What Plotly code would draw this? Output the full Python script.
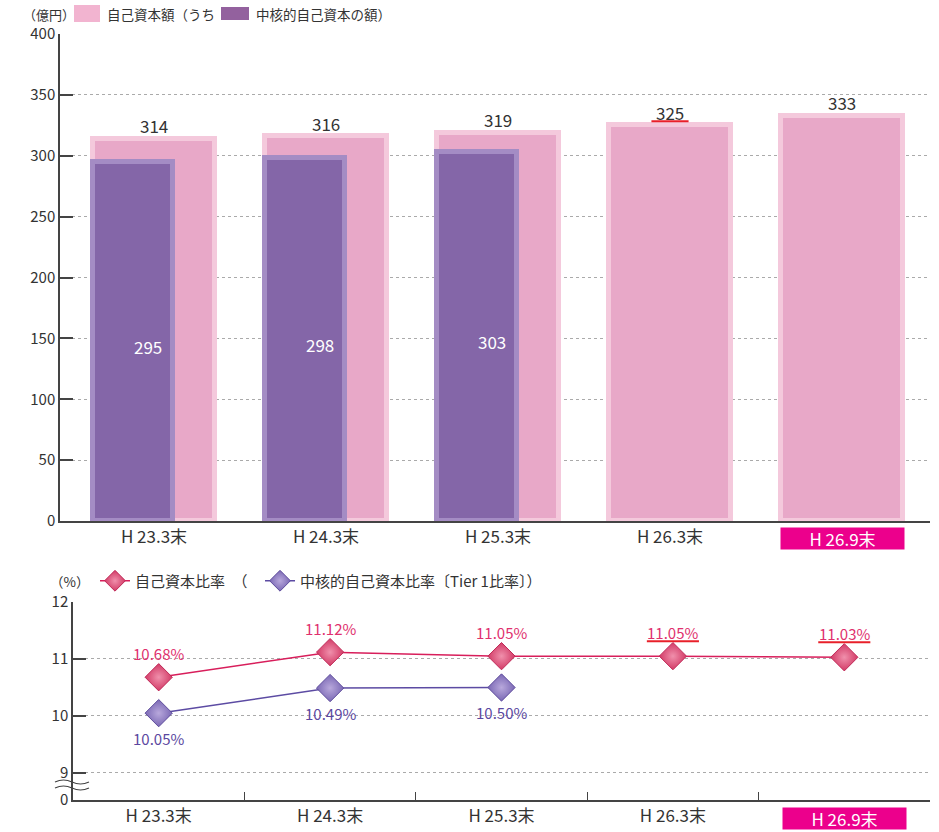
import plotly.graph_objects as go

# ---------------- data ----------------
categories = ["H 23.3末", "H 24.3末", "H 25.3末", "H 26.3末", "H 26.9末"]
capital = [314, 316, 319, 325, 333]              # 自己資本額 (億円)
core_capital = [295, 298, 303, None, None]       # 中核的自己資本の額 (億円)
capital_ratio = [10.68, 11.12, 11.05, 11.05, 11.03]   # 自己資本比率 (%)
tier1_ratio = [10.05, 10.49, 10.50, None, None]       # Tier1比率 (%)
capital_ratio_text = ["10.68%", "11.12%", "11.05%", "11.05%", "11.03%"]
tier1_ratio_text = ["10.05%", "10.49%", "10.50%", None, None]
top_ticks = [0, 50, 100, 150, 200, 250, 300, 350, 400]
bottom_tickvals = [8.526, 9, 10, 11, 12]
bottom_ticktext = ["0", "9", "10", "11", "12"]
underline_top = [3]          # underlined value labels (top)
underline_bottom = [3, 4]    # underlined value labels (bottom)
highlight = 4                # highlighted category

W, H = 939, 832
FONT = "Noto Sans CJK JP"
TXT = "#333333"
PINK = "#E8A8C8"
PINK_EDGE = "#F4C9DC"
PURPLE = "#8466A8"
PURPLE_EDGE = "#A48CC4"
RED_LINE = "#D81E5B"
VIO_LINE = "#5C4BA3"
RED_LABEL = "#E0306E"
VIO_LABEL = "#5B48A0"
MAGENTA = "#EC008C"


def px(x):
    return x / W


def py(y):
    return 1 - y / H


x_idx = list(range(len(categories)))

fig = go.Figure()

# ---------------- top: bars ----------------
fig.add_trace(go.Bar(
    x=x_idx, y=capital, width=0.715, xaxis="x", yaxis="y",
    marker=dict(color=PINK, line=dict(color=PINK_EDGE, width=5)),
    showlegend=False, hoverinfo="y"))
fig.add_trace(go.Bar(
    x=x_idx, y=core_capital, width=0.47, offset=-0.3575, xaxis="x", yaxis="y",
    marker=dict(color=PURPLE, line=dict(color=PURPLE_EDGE, width=5)),
    showlegend=False, hoverinfo="y"))

# ---------------- bottom: lines ----------------
fig.add_trace(go.Scatter(
    x=x_idx, y=capital_ratio, xaxis="x2", yaxis="y2", mode="lines+markers",
    name="自己資本比率　（\u2002", legend="legend2",
    line=dict(color=RED_LINE, width=1.5),
    marker=dict(symbol="diamond", size=21, color="#D23A66",
                gradient=dict(type="radial", color="#F090AC"),
                line=dict(color="#C02A58", width=1)),
    cliponaxis=False))
fig.add_trace(go.Scatter(
    x=x_idx, y=tier1_ratio, xaxis="x2", yaxis="y2", mode="lines+markers",
    name="中核的自己資本比率〔Tier 1比率〕）", legend="legend2",
    line=dict(color=VIO_LINE, width=1.5),
    marker=dict(symbol="diamond", size=21, color="#7A68B4",
                gradient=dict(type="radial", color="#B8A8DC"),
                line=dict(color="#5E4C9C", width=1)),
    cliponaxis=False))

annotations = []
shapes = []

# value labels top
for i, v in enumerate(capital):
    annotations.append(dict(x=i, y=v, xref="x", yref="y", text=str(v),
                            showarrow=False, yanchor="middle", yshift=13,
                            font=dict(size=17, color=TXT, family=FONT)))
for i, v in enumerate(core_capital):
    if v is None:
        continue
    annotations.append(dict(x=i - 0.035, y=v / 2, xref="x", yref="y", text=str(v),
                            showarrow=False, yanchor="middle", yshift=-5,
                            font=dict(size=17, color="white", family=FONT)))
for i in underline_top:
    shapes.append(dict(type="line", xref="x", yref="y",
                       x0=i - 0.108, x1=i + 0.108,
                       y0=capital[i] + 3.3, y1=capital[i] + 3.3,
                       line=dict(color="#E8202A", width=2)))

# value labels bottom
for i, (v, t) in enumerate(zip(capital_ratio, capital_ratio_text)):
    annotations.append(dict(x=i, y=v, xref="x2", yref="y2", text=t,
                            showarrow=False, yanchor="middle", yshift=24,
                            font=dict(size=15, color=RED_LABEL, family=FONT)))
for i, (v, t) in enumerate(zip(tier1_ratio, tier1_ratio_text)):
    if v is None:
        continue
    annotations.append(dict(x=i, y=v, xref="x2", yref="y2", text=t,
                            showarrow=False, yanchor="middle", yshift=-25,
                            font=dict(size=15, color=VIO_LABEL, family=FONT)))
for i in underline_bottom:
    yy = capital_ratio[i] + 15 / 57
    shapes.append(dict(type="line", xref="x2", yref="y2",
                       x0=i - 0.152, x1=i + 0.152, y0=yy, y1=yy,
                       line=dict(color="#E8202A", width=2)))

# highlighted category labels (magenta boxes)
for xr, yc in (("x", 538), ("x2", 818)):
    annotations.append(dict(x=highlight, y=py(yc), xref=xr,
                            yref="paper", text=categories[highlight],
                            showarrow=False, bgcolor=MAGENTA, width=123, height=21,
                            borderpad=0, yanchor="middle",
                            font=dict(size=17, color="white", family=FONT)))

tick_labels = [c if i != highlight else "" for i, c in enumerate(categories)]

# unit labels
annotations.append(dict(x=px(21), y=py(14), xref="paper", yref="paper", text="（億円）",
                        showarrow=False, xanchor="left", yanchor="middle",
                        font=dict(size=13, color=TXT, family=FONT)))
annotations.append(dict(x=px(48), y=py(581), xref="paper", yref="paper", text="（%）",
                        showarrow=False, xanchor="left", yanchor="middle",
                        font=dict(size=13.5, color=TXT, family=FONT)))

# top legend (swatches + text)
shapes.append(dict(type="rect", xref="paper", yref="paper",
                   x0=px(74), x1=px(100), y0=py(22), y1=py(5),
                   fillcolor="#F2B4D0", line=dict(width=0)))
annotations.append(dict(x=px(105), y=py(14), xref="paper", yref="paper",
                        text="自己資本額（うち", showarrow=False, xanchor="left",
                        yanchor="middle", font=dict(size=13.5, color=TXT, family=FONT)))
shapes.append(dict(type="rect", xref="paper", yref="paper",
                   x0=px(221), x1=px(249), y0=py(20), y1=py(7),
                   fillcolor="#93619E", line=dict(width=0)))
annotations.append(dict(x=px(254), y=py(14), xref="paper", yref="paper",
                        text="中核的自己資本の額）", showarrow=False, xanchor="left",
                        yanchor="middle", font=dict(size=13.5, color=TXT, family=FONT)))


# axis break symbol on bottom y axis
def wave(y):
    pts = [(55, y), (63.5, y - 4), (72, y), (80.5, y + 4), (89, y)]
    return "M{},{} Q{},{} {},{} Q{},{} {},{}".format(
        px(pts[0][0]), py(pts[0][1]), px(pts[1][0]), py(pts[1][1]),
        px(pts[2][0]), py(pts[2][1]), px(pts[3][0]), py(pts[3][1]),
        px(pts[4][0]), py(pts[4][1]))


for yw in (782, 788):
    shapes.append(dict(type="path", xref="paper", yref="paper", path=wave(yw),
                       line=dict(color="#444", width=1.2)))

fig.update_layout(
    width=W, height=H,
    margin=dict(l=0, r=0, t=0, b=0, autoexpand=False),
    paper_bgcolor="white", plot_bgcolor="white",
    barmode="overlay", bargap=0,
    font=dict(family=FONT, color=TXT),
    annotations=annotations, shapes=shapes,
    showlegend=True,
    legend2=dict(orientation="h", x=px(95), y=py(581), xanchor="left", yanchor="middle",
                 font=dict(size=15, color=TXT, family=FONT), bgcolor="rgba(0,0,0,0)",
                 itemwidth=30, tracegroupgap=0, itemclick=False),
    xaxis=dict(domain=[px(60), px(930)], range=[-0.5465, 4.5116],
               tickmode="array", tickvals=x_idx, ticktext=tick_labels,
               showline=True, linecolor="#444", linewidth=1.5, ticks="",
               showgrid=False, zeroline=False, anchor="y", automargin=False,
               tickfont=dict(size=17, color=TXT, family=FONT)),
    yaxis=dict(domain=[py(521), py(34)], range=[0, 400], anchor="x", automargin=False,
               tickmode="array", tickvals=top_ticks,
               showline=True, linecolor="#444", linewidth=1.5,
               ticks="inside", ticklen=13, tickwidth=1.5, tickcolor="#444",
               showgrid=True, gridcolor="#AAAAAA", griddash="dot", gridwidth=1,
               zeroline=False,
               tickfont=dict(size=15, color=TXT, family=FONT)),
    xaxis2=dict(domain=[px(73), px(930)], range=[-0.5, 4.5], anchor="y2", automargin=False,
                tickmode="array", tickvals=x_idx, ticktext=tick_labels,
                showline=True, linecolor="#444", linewidth=1.5, ticks="",
                minor=dict(tickmode="array", tickvals=[0.5, 1.5, 2.5, 3.5],
                           ticks="inside", ticklen=8, tickwidth=1.2, tickcolor="#444",
                           showgrid=False),
                showgrid=False, zeroline=False,
                tickfont=dict(size=17, color=TXT, family=FONT)),
    yaxis2=dict(domain=[py(800), py(602)], range=[8.526, 12], anchor="x2", automargin=False,
                tickmode="array", tickvals=bottom_tickvals, ticktext=bottom_ticktext,
                showline=True, linecolor="#444", linewidth=1.5,
                ticks="inside", ticklen=13, tickwidth=1.5, tickcolor="#444",
                showgrid=True, gridcolor="#AAAAAA", griddash="dot", gridwidth=1,
                zeroline=False,
                tickfont=dict(size=15, color=TXT, family=FONT)),
)

fig.write_html("out.html", config={"displayModeBar": False},
               post_script="document.body.style.margin='0px';")
